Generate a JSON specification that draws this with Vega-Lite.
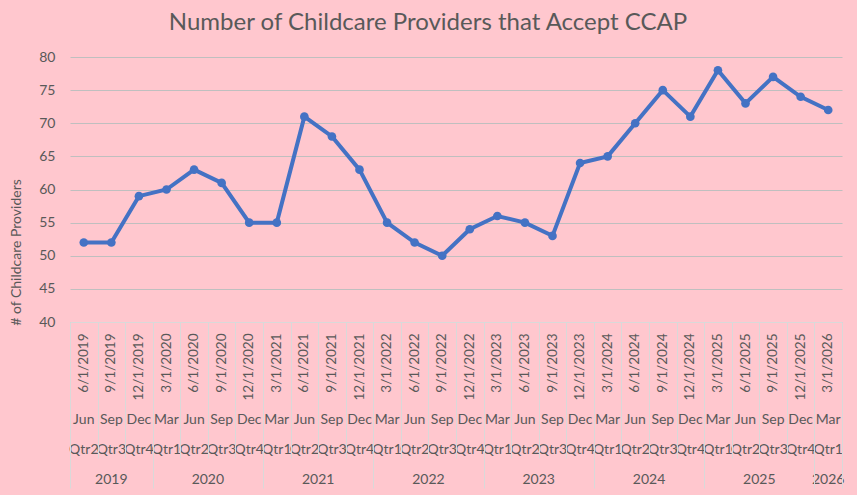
{
  "$schema": "https://vega.github.io/schema/vega-lite/v6.json",
  "width": 772,
  "height": 265,
  "autosize": {"type": "none"},
  "padding": {"left": 70, "top": 57, "right": 15, "bottom": 173},
  "background": "#FFC7CE",
  "config": {
    "view": {"stroke": null},
    "font": "Lato",
    "axis": {"labelFont": "Lato", "titleFont": "Lato", "labelColor": "#595959", "titleColor": "#595959"}
  },
  "title": {
    "text": "Number of Childcare Providers that Accept CCAP",
    "font": "Lato",
    "fontSize": 24,
    "fontWeight": "normal",
    "color": "#595959",
    "anchor": "middle",
    "dx": -28,
    "offset": 15
  },
  "data": {
    "values": [
      {"date": "6/1/2019", "providers": 52},
      {"date": "9/1/2019", "providers": 52},
      {"date": "12/1/2019", "providers": 59},
      {"date": "3/1/2020", "providers": 60},
      {"date": "6/1/2020", "providers": 63},
      {"date": "9/1/2020", "providers": 61},
      {"date": "12/1/2020", "providers": 55},
      {"date": "3/1/2021", "providers": 55},
      {"date": "6/1/2021", "providers": 71},
      {"date": "9/1/2021", "providers": 68},
      {"date": "12/1/2021", "providers": 63},
      {"date": "3/1/2022", "providers": 55},
      {"date": "6/1/2022", "providers": 52},
      {"date": "9/1/2022", "providers": 50},
      {"date": "12/1/2022", "providers": 54},
      {"date": "3/1/2023", "providers": 56},
      {"date": "6/1/2023", "providers": 55},
      {"date": "9/1/2023", "providers": 53},
      {"date": "12/1/2023", "providers": 64},
      {"date": "3/1/2024", "providers": 65},
      {"date": "6/1/2024", "providers": 70},
      {"date": "9/1/2024", "providers": 75},
      {"date": "12/1/2024", "providers": 71},
      {"date": "3/1/2025", "providers": 78},
      {"date": "6/1/2025", "providers": 73},
      {"date": "9/1/2025", "providers": 77},
      {"date": "12/1/2025", "providers": 74},
      {"date": "3/1/2026", "providers": 72}
    ]
  },
  "encoding": {
    "y": {
      "field": "providers",
      "type": "quantitative",
      "scale": {"domain": [40, 80], "nice": false, "zero": false},
      "axis": {
        "title": "# of Childcare Providers",
        "titleFontSize": 14,
        "titleFontWeight": "normal",
        "titleAngle": 270,
        "titleAlign": "center",
        "titleBaseline": "middle",
        "titleX": -54,
        "titleY": 195,
        "values": [40, 45, 50, 55, 60, 65, 70, 75, 80],
        "grid": true,
        "gridColor": "#BFBFBF",
        "gridWidth": 1,
        "domain": false,
        "ticks": false,
        "labelPadding": 15,
        "labelFontSize": 14
      }
    }
  },
  "layer": [
    {
      "mark": {"type": "line", "color": "#4472C4", "strokeWidth": 4},
      "encoding": {
        "x": {
          "field": "date",
          "type": "ordinal",
          "sort": null,
          "bandPosition": 0.5,
          "scale": {"type": "band", "paddingInner": 0, "paddingOuter": 0},
          "axis": {
            "title": null,
            "orient": "bottom",
            "labelAngle": 270,
            "labelAlign": "right",
            "labelBaseline": "middle",
            "labelPadding": 11,
            "labelFontSize": 13.5,
            "labelOverlap": false,
            "ticks": false,
            "grid": false,
            "domain": true,
            "domainColor": "#D9D9D9",
            "domainWidth": 1
          }
        }
      }
    },
    {
      "mark": {"type": "point", "filled": true, "color": "#4472C4", "size": 75, "opacity": 1},
      "encoding": {
        "x": {
          "field": "date",
          "type": "ordinal",
          "sort": null,
          "bandPosition": 0.5,
          "scale": {"type": "band", "paddingInner": 0, "paddingOuter": 0},
          "axis": {
            "title": null,
            "orient": "bottom",
            "labelAngle": 0,
            "labelAlign": "center",
            "labelBaseline": "top",
            "labelPadding": 90,
            "labelLineHeight": 30,
            "labelFontSize": 14,
            "labelOverlap": false,
            "labelExpr": "[['Jan','Feb','Mar','Apr','May','Jun','Jul','Aug','Sep','Oct','Nov','Dec'][toNumber(split(datum.value, '/')[0]) - 1], 'Qtr' + ceil(toNumber(split(datum.value, '/')[0]) / 3)]",
            "ticks": false,
            "grid": false,
            "domain": false
          }
        }
      }
    },
    {
      "mark": {"type": "point", "opacity": 0},
      "encoding": {
        "x": {
          "field": "date",
          "type": "ordinal",
          "sort": null,
          "bandPosition": 0.5,
          "scale": {"type": "band", "paddingInner": 0, "paddingOuter": 0},
          "axis": {
            "title": null,
            "orient": "bottom",
            "labelAngle": 0,
            "labelAlign": "center",
            "labelBaseline": "top",
            "labelPadding": 150,
            "labelFontSize": 14,
            "labelOverlap": false,
            "labelExpr": "datum.value == '9/1/2019' ? '2019' : datum.value == '3/1/2026' ? '2026' : (indexof(datum.value, '6/') == 0 && datum.value != '6/1/2019') ? split(datum.value, '/')[2] : ''",
            "labelOffset": {"condition": {"test": "indexof(datum.value, '6/') == 0", "value": 13.79}, "value": 0},
            "ticks": false,
            "grid": false,
            "domain": false
          }
        }
      }
    },
    {
      "mark": {"type": "point", "opacity": 0},
      "encoding": {
        "x": {
          "field": "date",
          "type": "ordinal",
          "sort": null,
          "bandPosition": 0.5,
          "scale": {"type": "band", "paddingInner": 0, "paddingOuter": 0},
          "axis": {
            "title": null,
            "orient": "bottom",
            "labels": false,
            "domain": false,
            "grid": false,
            "ticks": true,
            "tickBand": "extent",
            "tickColor": "#D9D9D9",
            "tickWidth": 1,
            "tickSize": {"condition": {"test": "datum.value && indexof(datum.value, '12/') != 0 && datum.value != '3/1/2026'", "value": 136}, "value": 166}
          }
        }
      }
    }
  ],
  "resolve": {"axis": {"x": "independent"}}
}
